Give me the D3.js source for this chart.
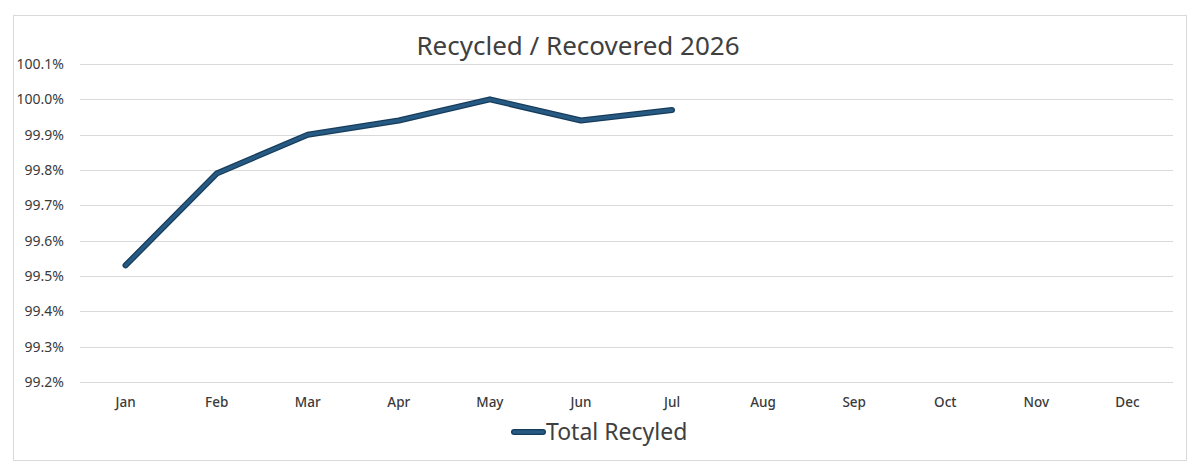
<!DOCTYPE html>
<html>
<head>
<meta charset="utf-8">
<script src="https://cdn.jsdelivr.net/npm/d3@7"></script>
<style>
  body { margin: 0; background: #fff; }
  svg { display: block; font-family: "Noto Sans", sans-serif; }
</style>
</head>
<body>
<svg id="chart" width="1200" height="476"></svg>
<script>
// chart data
const months = ["Jan", "Feb", "Mar", "Apr", "May", "Jun", "Jul", "Aug", "Sep", "Oct", "Nov", "Dec"];
const recycled = [99.53, 99.79, 99.90, 99.94, 100.0, 99.94, 99.97];
const yTicks = [99.2, 99.3, 99.4, 99.5, 99.6, 99.7, 99.8, 99.9, 100.0, 100.1];

const svg = d3.select("#chart");
const plot = { left: 80, right: 1173, top: 64, bottom: 382 };
const font = "'Noto Sans', sans-serif";

// outer border
svg.append("rect")
  .attr("x", 13.5).attr("y", 15.5)
  .attr("width", 1173).attr("height", 445)
  .attr("fill", "#fff").attr("stroke", "#d9d9d9");

const x = d3.scaleBand().domain(months).range([plot.left, plot.right]);
const y = d3.scaleLinear().domain([99.2, 100.1]).range([plot.bottom, plot.top]);

// gridlines
svg.append("g")
  .selectAll("line")
  .data(yTicks)
  .enter()
  .append("line")
  .attr("x1", plot.left).attr("x2", plot.right)
  .attr("y1", d => Math.round(y(d)) + 0.5)
  .attr("y2", d => Math.round(y(d)) + 0.5)
  .attr("stroke", "#d9d9d9");

// y labels
const yAxis = d3.axisLeft(y).tickValues(yTicks).tickFormat(d => d.toFixed(1) + "%").tickSize(0).tickPadding(16);
const gy = svg.append("g").attr("transform", `translate(${plot.left},0)`).call(yAxis)
  .attr("font-family", font);
gy.select(".domain").remove();
gy.selectAll("text").attr("font-size", 14).attr("fill", "#3a3a3a");

// x labels
const xAxis = d3.axisBottom(x).tickSize(0).tickPadding(15);
const gx = svg.append("g").attr("transform", `translate(0,${plot.bottom})`).call(xAxis)
  .attr("font-family", font);
gx.select(".domain").remove();
gx.selectAll("text").attr("font-size", 13.5).attr("font-weight", 500).attr("fill", "#3a3a3a");

// line (outline + fill like Excel)
const line = d3.line()
  .x((d, i) => x(months[i]) + x.bandwidth() / 2)
  .y(d => y(d));

svg.append("path").datum(recycled)
  .attr("d", line).attr("fill", "none")
  .attr("stroke", "#163c5c").attr("stroke-width", 6)
  .attr("stroke-linecap", "round").attr("stroke-linejoin", "round");
svg.append("path").datum(recycled)
  .attr("d", line).attr("fill", "none")
  .attr("stroke", "#265a82").attr("stroke-width", 3.5)
  .attr("stroke-linecap", "round").attr("stroke-linejoin", "round");

// title
svg.append("text")
  .attr("x", 578).attr("y", 55)
  .attr("text-anchor", "middle")
  .attr("font-size", 26)
  .attr("fill", "#404040")
  .text("Recycled / Recovered 2026");

// legend
const lg = svg.append("g");
lg.append("line")
  .attr("x1", 514).attr("x2", 543).attr("y1", 432).attr("y2", 432)
  .attr("stroke", "#163c5c").attr("stroke-width", 6).attr("stroke-linecap", "round");
lg.append("line")
  .attr("x1", 514).attr("x2", 543).attr("y1", 432).attr("y2", 432)
  .attr("stroke", "#265a82").attr("stroke-width", 3.5).attr("stroke-linecap", "round");
lg.append("text")
  .attr("x", 546).attr("y", 440)
  .attr("font-size", 23)
  .attr("fill", "#404040")
  .text("Total Recyled");
</script>
</body>
</html>
